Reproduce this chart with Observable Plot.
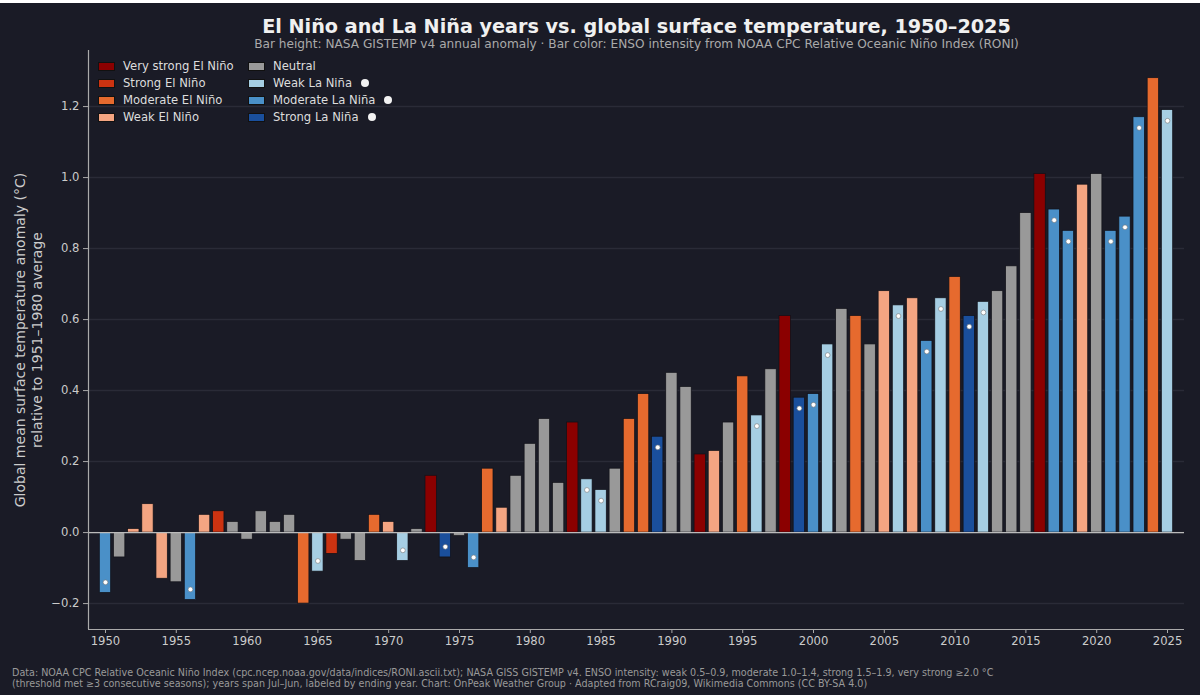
<!DOCTYPE html>
<html><head><meta charset="utf-8">
<script src="https://cdn.jsdelivr.net/npm/d3@7"></script>
<script src="https://cdn.jsdelivr.net/npm/@observablehq/plot@0.6"></script>
<style>
html,body{margin:0;padding:0;background:#fff;}
#page{position:relative;width:1200px;height:692px;margin-top:3px;background:#1a1b26;font-family:"DejaVu Sans",sans-serif;overflow:hidden;}
#title{position:absolute;top:12px;left:0;width:1273px;text-align:center;color:#f0f0f0;font-size:19.2px;font-weight:bold;line-height:24px;}
#subtitle{position:absolute;top:34px;left:0;width:1273px;text-align:center;color:#aaaaaa;font-size:12.15px;line-height:14px;}
#chart{position:absolute;top:0;left:0;}
#caption{position:absolute;top:664px;left:12px;color:#999;font-size:9.6px;line-height:11.4px;white-space:pre;}
#legend{position:absolute;top:54.5px;left:98px;display:grid;grid-template-columns:150px 160px;grid-auto-flow:column;grid-template-rows:repeat(4,17px);color:#dddddd;font-size:11.6px;}
#legend div{display:flex;align-items:center;}
#legend .sw{display:inline-block;width:15px;height:7px;border:1px solid #111;margin-right:8px;}
#legend .wd{display:inline-block;width:8px;height:8px;border-radius:50%;background:#f2f2f2;margin-left:9px;}
</style></head><body>
<div id="page">
<div id="chart"></div>
<div id="title">El Niño and La Niña years vs. global surface temperature, 1950–2025</div>
<div id="subtitle">Bar height: NASA GISTEMP v4 annual anomaly · Bar color: ENSO intensity from NOAA CPC Relative Oceanic Niño Index (RONI)</div>
<div id="legend"></div>
<div id="caption"></div>
</div>
<script>
const startYear = 1950;
const anomalies = [
-0.17,-0.07,0.01,0.08,-0.13,-0.14,-0.19,0.05,0.06,0.03,
-0.02,0.06,0.03,0.05,-0.20,-0.11,-0.06,-0.02,-0.08,0.05,
0.03,-0.08,0.01,0.16,-0.07,-0.01,-0.10,0.18,0.07,0.16,
0.25,0.32,0.14,0.31,0.15,0.12,0.18,0.32,0.39,0.27,
0.45,0.41,0.22,0.23,0.31,0.44,0.33,0.46,0.61,0.38,
0.39,0.53,0.63,0.61,0.53,0.68,0.64,0.66,0.54,0.66,
0.72,0.61,0.65,0.68,0.75,0.90,1.01,0.91,0.85,0.98,
1.01,0.85,0.89,1.17,1.28,1.19];
// category codes: V very strong, S strong, M moderate, W weak El Niño; N neutral; w weak, m moderate, s strong La Niña
const classes = [
"m","N","W","W","W","N","m","W","S","N",
"N","N","N","N","M","w","S","N","N","M",
"W","w","N","V","s","N","m","M","W","N",
"N","N","N","V","w","w","N","M","M","s",
"N","N","V","W","N","M","w","N","V","s",
"m","w","N","M","N","W","w","W","m","w",
"M","s","w","N","N","N","V","m","m","W",
"N","m","m","m","M","w"];
const classCodes = ["V","S","M","W","N","w","m","s"];
const classNames = ["Very strong El Niño","Strong El Niño","Moderate El Niño","Weak El Niño","Neutral","Weak La Niña","Moderate La Niña","Strong La Niña"];
const classColors = ["#8b0000","#cc3311","#e66a2e","#f4a582","#999999","#a6cee3","#4a90c8","#1a4f9c"];
const laNinaCodes = ["w","m","s"];
const xTicks = [1950,1955,1960,1965,1970,1975,1980,1985,1990,1995,2000,2005,2010,2015,2020,2025];
const yTicks = [-0.2,0,0.2,0.4,0.6,0.8,1.0,1.2];
const yLabel = "Global mean surface temperature anomaly (°C)\nrelative to 1951–1980 average";
const captionText = "Data: NOAA CPC Relative Oceanic Niño Index (cpc.ncep.noaa.gov/data/indices/RONI.ascii.txt); NASA GISS GISTEMP v4. ENSO intensity: weak 0.5–0.9, moderate 1.0–1.4, strong 1.5–1.9, very strong ≥2.0 °C\n(threshold met ≥3 consecutive seasons); years span Jul–Jun, labeled by ending year. Chart: OnPeak Weather Group · Adapted from RCraig09, Wikimedia Commons (CC BY-SA 4.0)";

const rows = anomalies.map((v,i)=>({year:startYear+i, v, c:classes[i]}));
const nina = rows.filter(d=>laNinaCodes.includes(d.c));

const plot = Plot.plot({
  width:1200, height:660,
  marginLeft:88, marginRight:16, marginTop:47, marginBottom:34,
  style:{background:"transparent",fontFamily:"DejaVu Sans, sans-serif",fontSize:"11.6px",color:"#cccccc"},
  x:{domain:[1948.8,2026.2],ticks:xTicks,tickFormat:d=>String(d)},
  y:{domain:[-0.273,1.358]},
  color:{domain:classCodes,range:classColors},
  marks:[
    Plot.ruleY(yTicks,{stroke:"#2a2b37",strokeWidth:1.5}),
    Plot.rectY(rows,{x1:d=>d.year-0.4,x2:d=>d.year+0.4,y1:0,y2:"v",fill:"c",stroke:"#111118",strokeWidth:0.7}),
    Plot.ruleY([0],{stroke:"#bbbbbb",strokeWidth:1.2}),
    Plot.dot(nina,{x:"year",y:d=>d.v<0?d.v+0.03:d.v-0.03,r:2.4,fill:"#fff",stroke:"#777",strokeWidth:0.6}),
    Plot.axisX({ticks:xTicks,tickFormat:d=>String(d),tickSize:4,tickPadding:3,stroke:"#aaaaaa",color:"#cccccc",label:null}),
    Plot.axisY({ticks:yTicks,tickFormat:d=>d<0?"−"+Math.abs(d).toFixed(1):d.toFixed(1),tickSize:5,tickPadding:4,stroke:"#aaaaaa",color:"#cccccc",label:null}),
    Plot.ruleX([1948.8],{stroke:"#aaaaaa",strokeWidth:1.2}),
    Plot.ruleY([-0.273],{stroke:"#aaaaaa",strokeWidth:1.2}),
    Plot.text([yLabel],{frameAnchor:"left",rotate:-90,dx:-60,lineHeight:1.2,fontSize:14,fill:"#cccccc",textAnchor:"middle"})
  ]
});
document.getElementById("chart").appendChild(plot);

const legend=document.getElementById("legend");
classCodes.forEach((code,i)=>{
  const row=document.createElement("div");
  const sw=document.createElement("span");sw.className="sw";sw.style.background=classColors[i];
  const t=document.createElement("span");t.textContent=classNames[i];
  row.append(sw,t);
  if(laNinaCodes.includes(code)){const w=document.createElement("span");w.className="wd";row.append(w);}
  legend.append(row);
});
document.getElementById("caption").textContent=captionText;
</script>
</body></html>
